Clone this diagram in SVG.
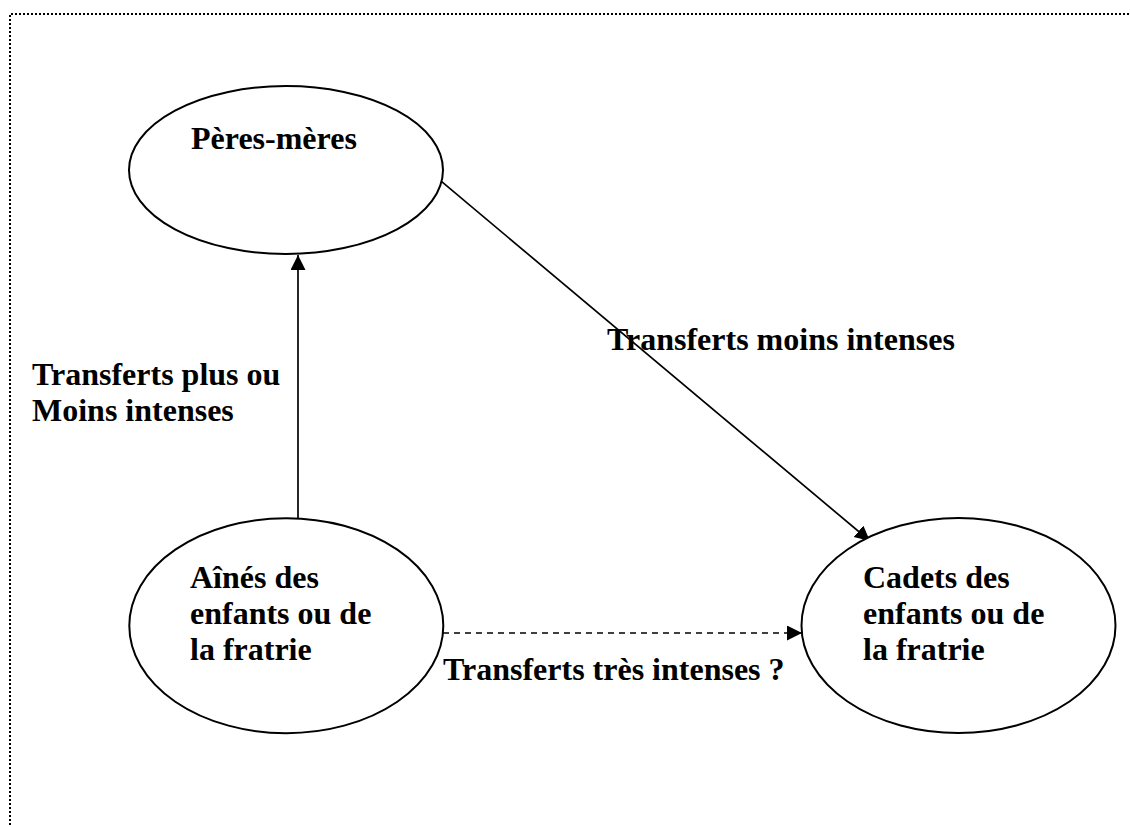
<svg xmlns="http://www.w3.org/2000/svg" width="1130" height="825" viewBox="0 0 1130 825">
<style>
.node { fill: #ffffff; stroke: #000000; stroke-width: 2; }
.lbl { font-family: "Liberation Serif", "Times New Roman", serif; font-weight: bold; font-size: 32px; fill: #000000; }
.edge { stroke: #000000; stroke-width: 1.7; fill: none; }
.dashed { stroke-dasharray: 6 5; }
.frame { stroke: #000000; stroke-width: 2; stroke-dasharray: 2 2; fill: none; }
</style>
<defs>
<marker id="arrow" markerUnits="userSpaceOnUse" markerWidth="16" markerHeight="16" refX="15" refY="7.5" orient="auto">
<path d="M0,0 L15,7.5 L0,15 z" fill="#000000"/>
</marker>
</defs>
<rect x="0" y="0" width="1130" height="825" fill="#ffffff"/>
<path class="frame" d="M10,825 L10,14 L1130,14"/>
<g id="connectors">
<line class="edge" x1="298" y1="518" x2="298" y2="255" marker-end="url(#arrow)"/>
<line class="edge" x1="441.7" y1="181.7" x2="870" y2="541" marker-end="url(#arrow)"/>
<line class="edge dashed" x1="443" y1="633" x2="802" y2="633" marker-end="url(#arrow)"/>
<text class="lbl" x="32" y="385">Transferts plus ou</text>
<text class="lbl" x="32" y="421">Moins intenses</text>
<text class="lbl" x="607" y="350">Transferts moins intenses</text>
<text class="lbl" x="443" y="680">Transferts très intenses ?</text>
</g>
<g id="peres-meres">
<ellipse class="node" cx="286" cy="170" rx="157" ry="84"/>
<text class="lbl" x="191" y="149">Pères-mères</text>
</g>
<g id="aines">
<ellipse class="node" cx="286.3" cy="625.7" rx="157" ry="107.5"/>
<text class="lbl" x="190" y="588">Aînés des</text>
<text class="lbl" x="190" y="624">enfants ou de</text>
<text class="lbl" x="190" y="660">la fratrie</text>
</g>
<g id="cadets">
<ellipse class="node" cx="958.5" cy="625.5" rx="157" ry="107.5"/>
<text class="lbl" x="863" y="588">Cadets des</text>
<text class="lbl" x="863" y="624">enfants ou de</text>
<text class="lbl" x="863" y="660">la fratrie</text>
</g>
</svg>
